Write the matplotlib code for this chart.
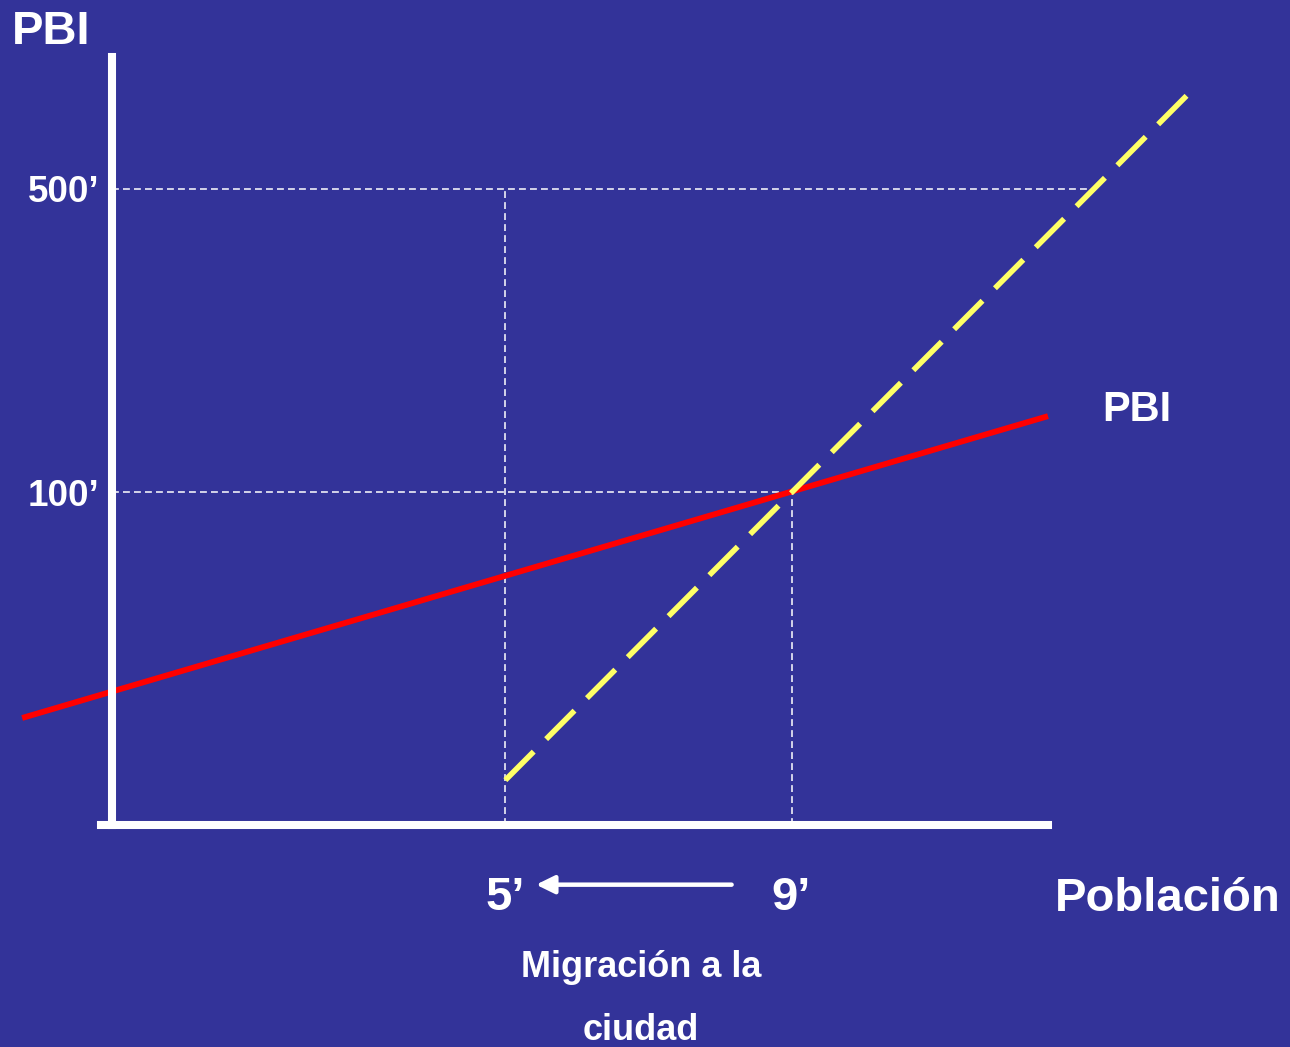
import numpy as np
import matplotlib
matplotlib.use("Agg")
import matplotlib.pyplot as plt

# schematic units: axes run 0..10 in both directions
pop_ticks = [4.20, 7.26]
pop_labels = ["5’", "9’"]
pbi_ticks = [4.32, 8.26]
pbi_labels = ["100’", "500’"]

# PBI curve (red) and the dashed yellow line
pbi_x = [-0.96, 10.0]
pbi_y = [1.39, 5.31]
yel_x = [4.20, 11.48]
yel_y = [0.58, 9.47]

bg = "#333399"
white = "white"
font = "Liberation Sans"

plt.rcParams["font.family"] = [font, "DejaVu Sans"]
plt.rcParams["font.weight"] = "bold"

fig = plt.figure(figsize=(12.9, 10.47), dpi=100, facecolor=bg)
W, H = 1290, 1047
ax = fig.add_axes([112 / W, 1 - 825 / H, (1048 - 112) / W, (825 - 55) / H])
ax.set_facecolor(bg)
ax.set_xlim(0, 10)
ax.set_ylim(0, 10)

# guide lines
dash = (0, (4.5, 2.7))
guide = dict(color=white, lw=1.1, linestyle=dash, zorder=2, clip_on=False)
x_at_500 = np.interp(pbi_ticks[1], yel_y, yel_x)
ax.plot([0, x_at_500], [pbi_ticks[1]] * 2, **guide)
ax.plot([0, pop_ticks[1]], [pbi_ticks[0]] * 2, **guide)
ax.plot([pop_ticks[0]] * 2, [0, pbi_ticks[1]], **guide)
ax.plot([pop_ticks[1]] * 2, [0, pbi_ticks[0]], **guide)

ax.plot(pbi_x, pbi_y, color="#ff0000", lw=4.2, solid_capstyle="butt",
        clip_on=False, zorder=3)
# 17 dashes, full dash at both ends
ax.plot(yel_x[::-1], yel_y[::-1], color="#ffff66", lw=4.0, dashes=(7.24, 3.17),
        dash_capstyle="butt", clip_on=False, zorder=4)

# axes
for s in ["top", "right"]:
    ax.spines[s].set_visible(False)
for s in ["left", "bottom"]:
    ax.spines[s].set_color(white)
    ax.spines[s].set_linewidth(5.8)
    ax.spines[s].set_zorder(5)
ax.spines["bottom"].set_bounds(-0.12, 10)
ax.spines["left"].set_bounds(0, 9.98)

ax.set_xticks(pop_ticks, pop_labels)
ax.set_yticks(pbi_ticks, pbi_labels)
ax.tick_params(axis="x", length=0, pad=37, labelsize=34, labelcolor=white)
ax.tick_params(axis="y", length=0, pad=9, labelsize=26.5, labelcolor=white)
for lab in ax.get_xticklabels() + ax.get_yticklabels():
    lab.set_fontweight("bold")

# arrow 9' -> 5'
ax.annotate("", xy=(4.53, -0.0775), xytext=(6.62, -0.0775),
            xycoords=ax.get_xaxis_transform(), textcoords=ax.get_xaxis_transform(),
            arrowprops=dict(arrowstyle="-|>,head_length=0.55,head_width=0.27",
                            color=white, lw=3.2, shrinkA=0, shrinkB=0,
                            mutation_scale=20))

txt = dict(color=white, fontweight="bold")
fig.text(12 / W, 1 - 44 / H, "PBI", fontsize=34, ha="left", va="baseline", **txt)
fig.text(1102 / W, 1 - 421 / H, "PBI", fontsize=30, ha="left", va="baseline", **txt)
fig.text(1055 / W, 1 - 911 / H, "Población", fontsize=34, ha="left", va="baseline", **txt)
fig.text(641 / W, 1 - 977 / H, "Migración a la", fontsize=26, ha="center", va="baseline", **txt)
fig.text(641 / W, 1 - 1040 / H, "ciudad", fontsize=26, ha="center", va="baseline", **txt)

fig.savefig("out.png", dpi=100, facecolor=bg)
